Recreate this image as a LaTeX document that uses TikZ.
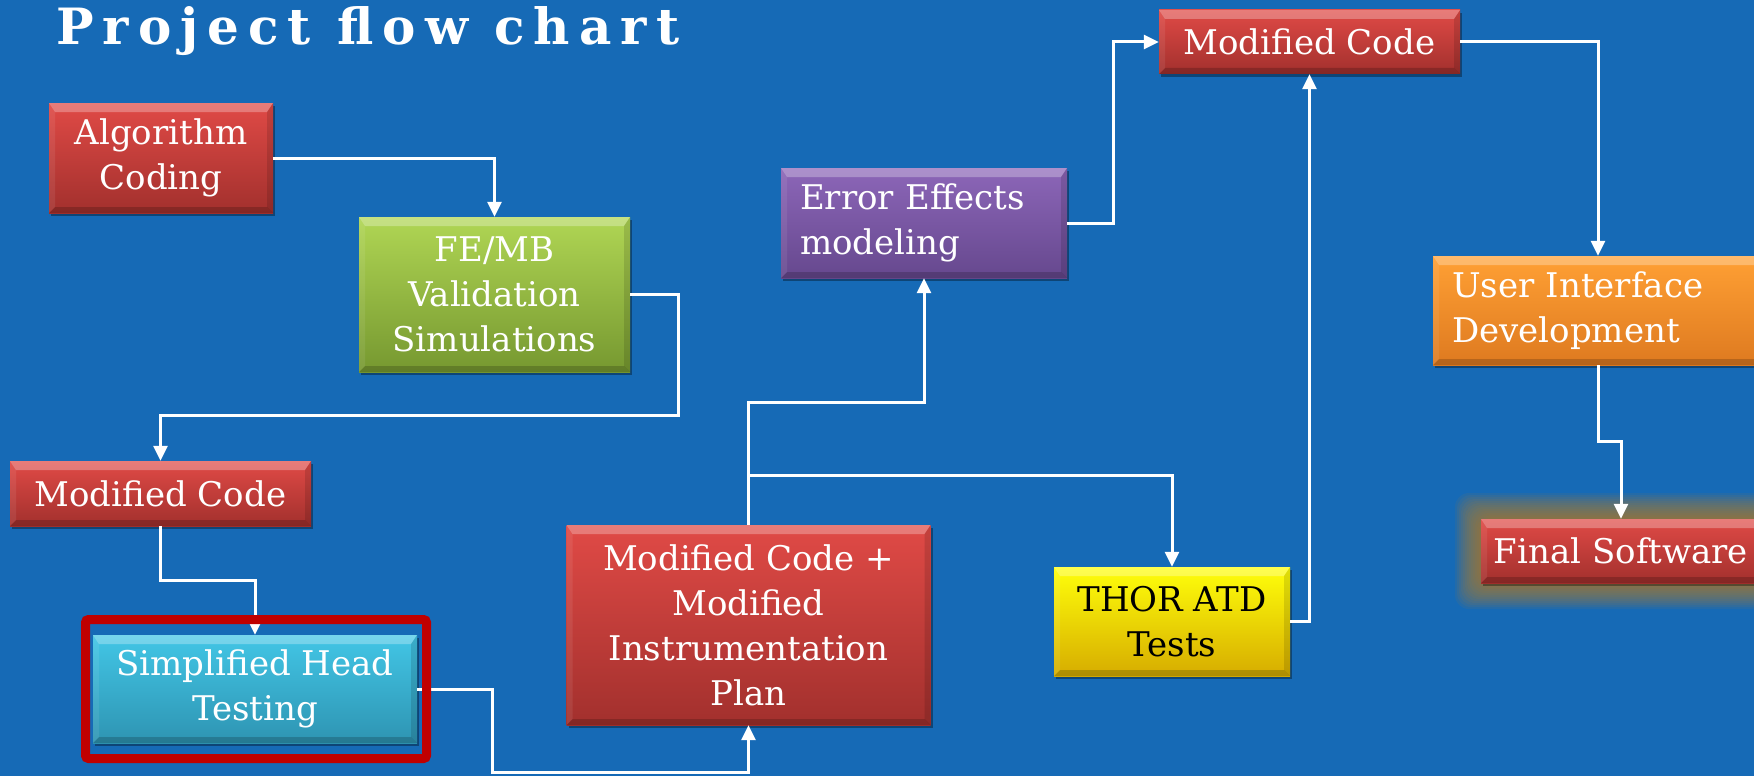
\documentclass[tikz,border=0pt]{standalone}
\usepackage{fontspec}
\setmainfont{DejaVu Serif}
\newfontfamily\titlefont[LetterSpace=18]{DejaVu Serif}
\usetikzlibrary{arrows.meta,shadows,calc}
\definecolor{bg}{RGB}{22,106,182}
\definecolor{redT}{RGB}{224,74,70}
\definecolor{redB}{RGB}{162,48,45}
\definecolor{grnT}{RGB}{176,214,84}
\definecolor{grnB}{RGB}{118,152,48}
\definecolor{cyaT}{RGB}{66,198,230}
\definecolor{cyaB}{RGB}{46,148,178}
\definecolor{purT}{RGB}{140,102,184}
\definecolor{purB}{RGB}{102,72,142}
\definecolor{yelT}{RGB}{255,255,10}
\definecolor{yelB}{RGB}{214,172,0}
\definecolor{oraT}{RGB}{255,160,52}
\definecolor{oraB}{RGB}{222,122,32}
\definecolor{frame}{RGB}{192,0,0}
\definecolor{glow}{RGB}{190,125,30}
\begin{document}
\begin{tikzpicture}[x=1pt,y=-1pt,
  bevel/.style={path picture={
    \fill[white,opacity=.28] (path picture bounding box.north west) -- (path picture bounding box.north east)
      -- ([xshift=-6pt,yshift=-9pt]path picture bounding box.north east) -- ([xshift=6pt,yshift=-9pt]path picture bounding box.north west) -- cycle;
    \fill[black,opacity=.18] (path picture bounding box.south west) -- (path picture bounding box.south east)
      -- ([xshift=-6pt,yshift=6pt]path picture bounding box.south east) -- ([xshift=6pt,yshift=6pt]path picture bounding box.south west) -- cycle;
    \fill[white,opacity=.08] (path picture bounding box.north west) -- ([xshift=6pt,yshift=-9pt]path picture bounding box.north west)
      -- ([xshift=6pt,yshift=6pt]path picture bounding box.south west) -- (path picture bounding box.south west) -- cycle;
    \fill[black,opacity=.12] (path picture bounding box.north east) -- ([xshift=-6pt,yshift=-9pt]path picture bounding box.north east)
      -- ([xshift=-6pt,yshift=6pt]path picture bounding box.south east) -- (path picture bounding box.south east) -- cycle;
  }},
  box/.style={rectangle, inner sep=0pt, text=white, align=center,
    font=\fontsize{34}{45}\selectfont, bevel,
    drop shadow={shadow xshift=2pt, shadow yshift=-3pt, opacity=.35, fill=black}},
  leftbox/.style={box, align=left, inner xsep=19pt},
  redbox/.style={box, top color=redT, bottom color=redB},
  grnbox/.style={box, top color=grnT, bottom color=grnB},
  cyabox/.style={box, top color=cyaT, bottom color=cyaB},
  purbox/.style={leftbox, top color=purT, bottom color=purB},
  yelbox/.style={box, top color=yelT, bottom color=yelB, text=black},
  orabox/.style={leftbox, top color=oraT, bottom color=oraB},
  conn/.style={draw=white, line width=3pt, -{Triangle[length=15pt,width=14pt]}}
]
\useasboundingbox (0,0) rectangle (1754,776);
\clip (0,0) rectangle (1754,776);
\fill[bg] (0,0) rectangle (1754,776);

% title
\node[anchor=base west, inner sep=0pt, text=white, font=\titlefont\bfseries\fontsize{50}{56}\selectfont] (title) at (56,45) {Project flow chart};

% glow behind Final Software
\foreach \i in {1,...,13}
  \fill[glow, opacity=.085, rounded corners=14pt] ({1481-2*\i},{519-2*\i}) rectangle ({1761+2*\i},{583+2*\i});

% boxes
\node[redbox, minimum width=224pt, minimum height=110pt] (alg) at (161,158) {Algorithm\\Coding};
\node[grnbox, minimum width=271pt, minimum height=155pt] (fe) at (494.5,294.5) {FE/MB\\Validation\\Simulations};
\node[redbox, minimum width=301pt, minimum height=65pt] (mc1) at (160.5,493.5) {Modified Code};
\node[cyabox, minimum width=324pt, minimum height=108pt] (sh) at (255,689) {Simplified Head\\Testing};
\node[redbox, minimum width=364pt, minimum height=200pt] (mcp) at (748.5,625) {Modified Code +\\Modified\\Instrumentation\\Plan};
\node[yelbox, minimum width=236pt, minimum height=109pt] (thor) at (1172,621.5) {THOR ATD\\Tests};
\node[purbox, text width=248pt, minimum height=110pt] (ee) at (924,223) {Error Effects\\modeling};
\node[redbox, minimum width=301pt, minimum height=64pt] (mc2) at (1309.5,42) {Modified Code};
\node[orabox, text width=292pt, minimum height=109pt] (ui) at (1598,310.5) {User Interface\\Development};
\node[redbox, minimum width=280pt, minimum height=64pt] (fs) at (1621,551) {Final Software};

% connectors
\draw[conn] (alg.east) -| (fe.north);
\draw[conn] (fe.east) -- ++(48,0) |- ($(mc1.north)+(0,-45)$) -- (mc1.north);
\draw[conn] (mc1.south) -- ++(0,54) -| (sh.north);
\draw[conn] (sh.east) -- ++(75,0) |- ($(mcp.south)+(0,47)$) -- (mcp.south);
\draw[conn] (mcp.north) -- ++(0,-122) -| (ee.south);
\coordinate (br) at ($(mcp.north)+(0,-49)$);
\draw[conn] (br) -| (thor.north);
\draw[conn] (ee.east) -- ++(46,0) |- (mc2.west);
\draw[conn] (thor.east) -| (mc2.south);
\draw[conn] (mc2.east) -| (ui.north);
\draw[conn] (ui.south) -- ++(0,76) -| (fs.north);

% highlight frame
\draw[frame, line width=9pt, rounded corners=3pt] (85.5,619.5) rectangle (426.5,758.5);
\end{tikzpicture}
\end{document}
